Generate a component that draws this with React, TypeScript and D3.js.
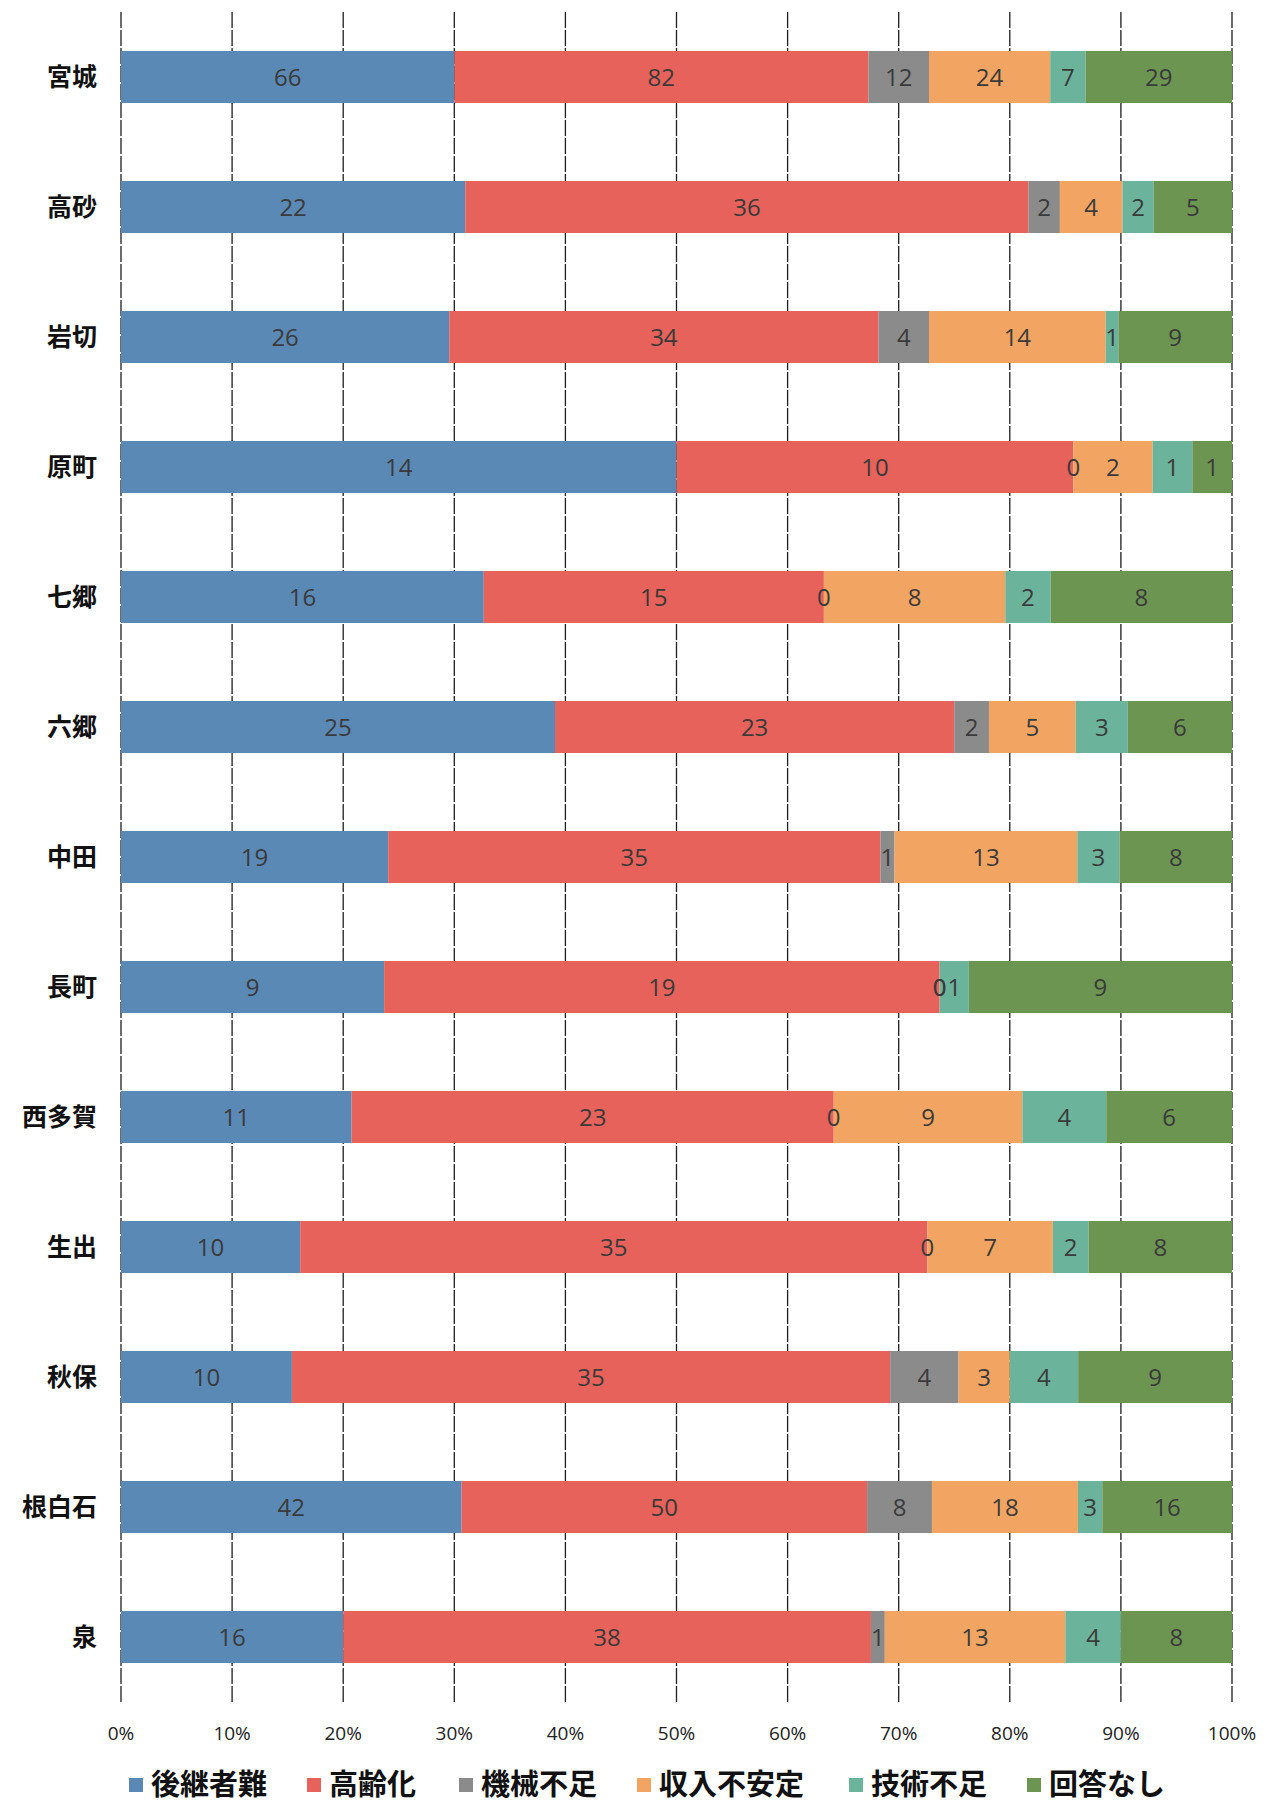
import React from "react";
import * as d3 from "d3";

const categories = ["宮城", "高砂", "岩切", "原町", "七郷", "六郷", "中田", "長町", "西多賀", "生出", "秋保", "根白石", "泉"];
const seriesNames = ["後継者難", "高齢化", "機械不足", "収入不安定", "技術不足", "回答なし"];
const seriesColors = ["#5b89b6", "#e6625a", "#8b8b8b", "#f2a562", "#6cb39b", "#6d9552"];

const successor = [66, 22, 26, 14, 16, 25, 19, 9, 11, 10, 10, 42, 16];
const aging = [82, 36, 34, 10, 15, 23, 35, 19, 23, 35, 35, 50, 38];
const machinery = [12, 2, 4, 0, 0, 2, 1, 0, 0, 0, 4, 8, 1];
const income = [24, 4, 14, 2, 8, 5, 13, 0, 9, 7, 3, 18, 13];
const skill = [7, 2, 1, 1, 2, 3, 3, 1, 4, 2, 4, 3, 4];
const noAnswer = [29, 5, 9, 1, 8, 6, 8, 9, 6, 8, 9, 16, 8];

const tickValues = [0, 0.1, 0.2, 0.3, 0.4, 0.5, 0.6, 0.7, 0.8, 0.9, 1.0];

const W = 1271;
const H = 1804;

export default function App() {
  const series = [successor, aging, machinery, income, skill, noAnswer];
  const rows = categories.map((c, i) => {
    const vals = series.map((s) => s[i]);
    const total = d3.sum(vals);
    const o: any = { cat: c, total };
    seriesNames.forEach((n, k) => (o[n] = vals[k] / total));
    return o;
  });
  const stack = d3.stack<any>().keys(seriesNames)(rows);

  const x = d3.scaleLinear().domain([0, 1]).range([121, 1232]);
  const y = d3.scaleBand<string>().domain(categories).range([12, 1702]).paddingInner(0.6).paddingOuter(0.3);
  const bw = y.bandwidth();

  const numFont = "'Open Sans', 'Liberation Sans', sans-serif";
  const cjkFont = "'Noto Sans CJK JP', 'Noto Sans', sans-serif";

  const legendSquares = [129, 307, 459, 637, 849, 1027];

  return (
    <svg width={W} height={H} style={{ position: "absolute", left: 0, top: 0, background: "#fff" }}>
      <rect x={0} y={0} width={W} height={H} fill="#ffffff" />
      <g>
        {tickValues.map((t, i) => (
          <line
            key={i}
            x1={x(t)}
            x2={x(t)}
            y1={12}
            y2={1702}
            stroke="#1e1e1e"
            strokeWidth={1.3}
            strokeDasharray="16 2"
          />
        ))}
      </g>
      <g>
        {stack.map((layer, k) => (
          <g key={k} fill={seriesColors[k]}>
            {layer.map((d, i) => (
              <rect
                key={i}
                x={x(d[0])}
                y={y(categories[i])}
                width={Math.max(0, x(d[1]) - x(d[0]))}
                height={bw}
              />
            ))}
          </g>
        ))}
      </g>
      <g fontFamily={numFont} fontSize={24} fill="#3a3a3a" textAnchor="middle">
        {stack.map((layer, k) =>
          layer.map((d, i) => (
            <text
              key={k + "-" + i}
              x={(x(d[0]) + x(d[1])) / 2}
              y={(y(categories[i]) as number) + bw / 2}
              dy="0.36em"
            >
              {series[k][i]}
            </text>
          ))
        )}
      </g>
      <g fontFamily={cjkFont} fontSize={25} fontWeight="bold" fill="#111" textAnchor="end">
        {categories.map((c) => (
          <text key={c} x={97} y={(y(c) as number) + bw / 2} dy="0.36em">
            {c}
          </text>
        ))}
      </g>
      <g fontFamily={numFont} fontSize={19} fill="#222" textAnchor="middle">
        {tickValues.map((t, i) => (
          <text key={i} x={x(t)} y={1733} dy="0.35em">
            {d3.format(".0%")(t)}
          </text>
        ))}
      </g>
      <g fontFamily={cjkFont} fontSize={29} fill="#111">
        {seriesNames.map((n, k) => (
          <g key={n} transform={`translate(${legendSquares[k]},1785)`}>
            <rect x={0} y={-7} width={14} height={14} fill={seriesColors[k]} />
            <text x={22} y={0} dy="0.36em" fontWeight="bold">
              {n}
            </text>
          </g>
        ))}
      </g>
    </svg>
  );
}
